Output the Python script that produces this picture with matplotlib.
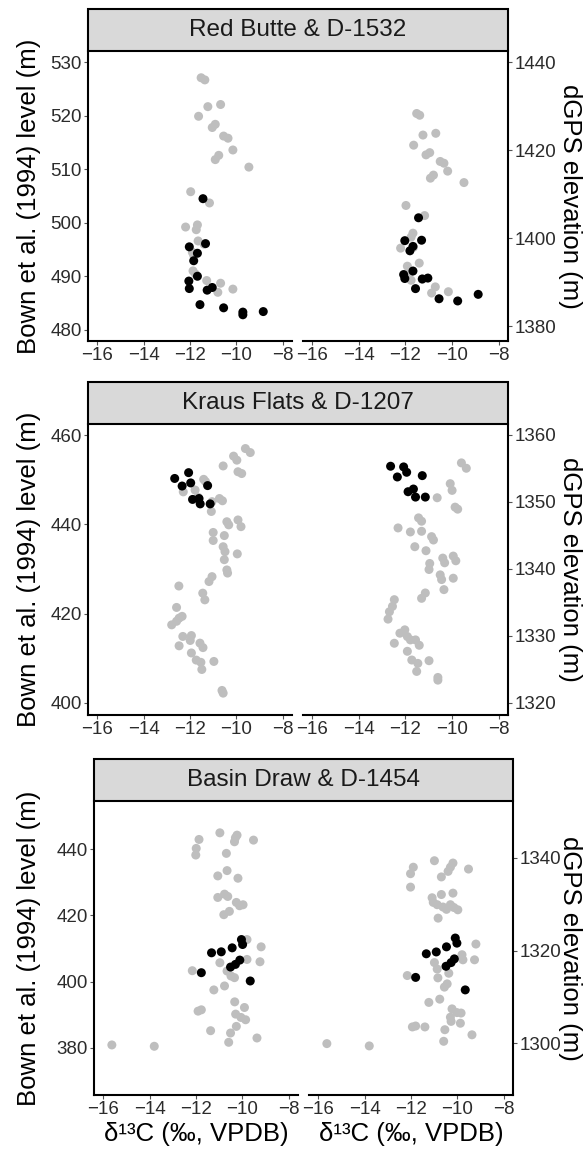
import matplotlib
matplotlib.use("Agg")
import matplotlib.pyplot as plt
from matplotlib.patches import Rectangle

plt.rcParams['font.family'] = ['Liberation Sans', 'DejaVu Sans']

# Red Butte & D-1532 : grey = all samples, black = selected samples
rb_grey_c = [-11.52, -11.36, -11.23, -10.68, -11.63, -10.91, -11.04, -10.55, -10.36, -10.15,
             -10.76, -10.91, -9.46, -11.97, -11.16, -12.19, -11.68, -11.73, -11.65, -11.39,
             -11.84, -11.87, -11.76, -11.28, -10.68, -10.15, -10.80, -11.90]
rb_grey_bown = [527.1, 526.7, 521.7, 522.1, 519.9, 518.4, 517.8, 516.2, 515.8, 513.6,
                512.6, 511.8, 510.4, 505.8, 503.7, 499.2, 499.6, 498.7, 496.6, 496.0,
                493.9, 491.0, 490.4, 489.2, 488.7, 487.6, 487.0, 494.5]
rb_black_c = [-11.44, -12.03, -11.68, -11.33, -11.84, -11.68, -12.05, -12.03, -11.26, -11.04,
              -11.57, -10.55, -9.72, -9.72, -8.84]
rb_black_bown = [504.5, 495.5, 494.3, 496.1, 492.9, 490.0, 489.1, 487.7, 487.4, 487.9,
                 484.7, 484.1, 483.3, 482.8, 483.4]
rb_grey_c2 = [-11.52, -11.39, -11.25, -10.70, -11.65, -11.12, -10.96, -10.51, -10.35, -10.19,
              -10.80, -10.93, -9.49, -11.98, -11.18, -11.68, -11.76, -12.21, -11.66, -11.41,
              -11.92, -11.84, -11.28, -10.72, -10.88, -10.16, -11.76]
rb_grey_gps = [1428.3, 1427.9, 1423.4, 1423.8, 1421.1, 1418.9, 1419.4, 1417.4, 1417.0, 1415.2,
               1414.3, 1413.6, 1412.6, 1407.4, 1405.1, 1401.1, 1400.2, 1397.7, 1397.9, 1394.3,
               1393.6, 1392.0, 1390.6, 1388.9, 1387.5, 1387.8, 1390.4]
rb_black_c2 = [-11.44, -12.03, -11.31, -11.68, -11.81, -11.68, -12.08, -12.03, -11.28, -11.04,
               -11.57, -10.56, -9.76, -8.88]
rb_black_gps = [1404.6, 1399.4, 1399.5, 1398.1, 1397.1, 1392.5, 1391.7, 1390.8, 1390.7, 1390.9,
                1388.5, 1386.2, 1385.7, 1387.2]

# Kraus Flats & D-1207
kf_grey_c = [-9.61, -9.40, -10.12, -9.98, -10.57, -9.93, -9.77, -11.41, -11.33, -12.29,
             -11.78, -11.66, -10.73, -10.60, -11.05, -11.08, -10.41, -10.33, -9.93, -9.80,
             -11.00, -11.00, -10.52, -10.57, -10.49, -9.96, -10.52, -10.41, -10.38, -11.05,
             -11.18, -12.48, -11.45, -11.36, -12.58, -12.34, -12.47, -12.58, -12.79, -12.31,
             -12.47, -11.94, -11.99, -11.57, -11.44, -11.94, -11.73, -11.53, -11.49, -10.97,
             -10.62, -10.57]
kf_grey_bown = [457.0, 456.1, 455.3, 454.4, 453.1, 451.8, 451.4, 450.1, 449.6, 447.3,
                447.7, 446.1, 445.8, 445.3, 445.1, 442.9, 440.6, 439.9, 441.0, 439.5,
                438.2, 436.4, 437.5, 435.0, 433.9, 433.4, 432.1, 429.8, 429.1, 428.3,
                427.2, 426.2, 424.6, 423.1, 421.4, 419.4, 419.0, 418.3, 417.5, 414.9,
                412.8, 415.1, 414.0, 413.4, 412.4, 411.2, 409.6, 409.1, 407.5, 409.3,
                402.8, 402.2]
kf_black_c = [-12.66, -12.06, -12.34, -11.97, -11.24, -11.89, -11.61, -11.56, -11.13]
kf_black_bown = [450.3, 451.6, 448.6, 449.3, 448.7, 445.6, 445.8, 444.6, 444.6]
kf_grey_c2 = [-9.60, -9.39, -10.08, -10.00, -10.64, -9.87, -9.76, -11.44, -11.31, -12.32,
              -11.79, -11.60, -11.31, -10.88, -10.80, -11.12, -10.96, -10.99, -10.40, -10.32,
              -9.95, -9.84, -10.51, -10.45, -10.35, -9.95, -11.15, -11.31, -12.48, -12.56,
              -12.69, -12.75, -12.24, -12.03, -12.48, -11.92, -11.79, -11.57, -11.41, -11.92,
              -11.73, -11.47, -11.52, -10.99, -10.61, -10.61]
kf_grey_gps = [1355.8, 1355.0, 1352.7, 1351.7, 1350.6, 1349.2, 1348.9, 1347.6, 1347.1, 1346.1,
               1345.5, 1343.3, 1345.6, 1344.8, 1344.3, 1342.7, 1340.8, 1339.9, 1341.6, 1340.9,
               1341.9, 1341.2, 1339.1, 1338.4, 1336.9, 1338.6, 1336.4, 1335.6, 1335.4, 1334.4,
               1333.6, 1332.5, 1330.4, 1330.9, 1328.9, 1329.9, 1329.4, 1329.4, 1328.6, 1327.7,
               1326.4, 1325.9, 1324.7, 1326.3, 1323.8, 1323.4]
kf_black_c2 = [-12.64, -12.08, -12.35, -11.95, -11.28, -11.89, -11.66, -11.57, -11.15]
kf_black_gps = [1355.3, 1355.2, 1353.7, 1354.4, 1353.9, 1351.5, 1351.9, 1350.7, 1350.7]

# Basin Draw & D-1454
bd_grey_c = [-15.63, -13.80, -11.87, -11.99, -12.01, -10.97, -10.34, -10.23, -10.30, -9.52,
             -10.69, -11.06, -10.66, -10.19, -11.06, -10.77, -10.63, -10.26, -10.12, -9.97,
             -10.80, -10.56, -9.80, -9.19, -10.97, -9.80, -9.24, -12.16, -10.66, -10.49,
             -10.34, -11.23, -10.77, -10.33, -9.91, -11.91, -11.77, -10.29, -10.06, -9.86,
             -10.26, -11.37, -10.51, -9.37, -10.59]
bd_grey_bown = [380.9, 380.5, 442.9, 440.2, 438.2, 444.9, 442.2, 444.2, 443.4, 442.7,
                438.7, 431.9, 433.5, 431.2, 425.4, 426.4, 425.7, 423.9, 422.9, 423.2,
                420.2, 421.2, 412.7, 410.5, 405.7, 406.7, 406.0, 403.3, 403.2, 401.7,
                401.2, 397.5, 398.7, 393.9, 392.2, 391.1, 391.5, 390.2, 389.2, 388.5,
                386.5, 385.2, 384.5, 383.0, 381.7]
bd_black_c = [-10.04, -9.99, -10.44, -11.33, -10.91, -10.11, -10.30, -10.51, -11.77, -9.66]
bd_black_bown = [412.7, 411.2, 410.2, 408.7, 409.0, 406.5, 405.2, 404.4, 402.7, 400.2]
bd_grey_c2 = [-15.63, -13.80, -10.99, -11.90, -12.02, -10.19, -10.30, -10.40, -9.52, -10.69,
              -12.02, -10.19, -10.69, -11.09, -11.04, -10.87, -10.62, -10.47, -10.30, -10.15,
              -9.98, -10.83, -9.20, -9.80, -9.76, -9.26, -10.99, -10.87, -12.16, -10.84,
              -10.37, -10.44, -10.56, -10.76, -11.23, -10.23, -10.02, -9.84, -10.30, -10.27,
              -9.87, -11.94, -11.80, -11.40, -10.54, -9.37, -10.59]
bd_grey_gps = [1299.9, 1299.4, 1339.4, 1338.0, 1336.6, 1338.9, 1338.0, 1337.1, 1337.6, 1335.9,
               1333.7, 1332.4, 1332.1, 1331.4, 1330.4, 1329.9, 1329.4, 1328.9, 1329.9, 1329.3,
               1328.8, 1327.0, 1321.4, 1319.1, 1318.0, 1318.0, 1317.4, 1316.0, 1314.6, 1314.1,
               1315.1, 1312.8, 1312.1, 1309.5, 1308.8, 1307.4, 1306.6, 1306.5, 1305.6, 1304.7,
               1304.3, 1303.5, 1303.7, 1303.5, 1302.9, 1301.8, 1300.4]
bd_black_c2 = [-10.09, -10.02, -10.47, -10.91, -11.34, -10.13, -10.27, -10.49, -11.80, -9.66]
bd_black_gps = [1322.7, 1321.6, 1320.8, 1319.7, 1319.3, 1318.2, 1317.4, 1316.6, 1314.2, 1311.5]

x_ticks = [-16, -14, -12, -10, -8]

W, H = 587, 1156
fig = plt.figure(figsize=(W / 100, H / 100), dpi=100)

GREY = '#bebebe'
TXT = '#2b2b2b'


def fx(px):
    return px / W


def fy(py):
    return 1 - py / H


def panel(rect, side, gx, gy, bx, by, ylim, yticks):
    x0, x1, top, bot = rect
    ax = fig.add_axes([fx(x0), fy(bot), fx(x1 - x0), (bot - top) / H])
    ax.scatter(gx, gy, s=42, c=GREY, edgecolors='none', zorder=2)
    ax.scatter(bx, by, s=42, c='black', edgecolors='none', zorder=3)
    ax.set_xlim(-16.4, -7.6)
    ax.set_ylim(*ylim)
    ax.set_xticks(x_ticks)
    ax.set_xticklabels(['\u2212' + str(-t) for t in x_ticks])
    ax.set_yticks(yticks)
    for s in ['top', 'left', 'right']:
        ax.spines[s].set_visible(False)
    ax.spines['bottom'].set_linewidth(1.5)
    if side == 'left':
        ax.spines['left'].set_visible(True)
        ax.spines['left'].set_linewidth(1.5)
    else:
        ax.spines['right'].set_visible(True)
        ax.spines['right'].set_linewidth(1.5)
        ax.yaxis.tick_right()
    ax.tick_params(direction='out', length=3, width=0.8, color='#555555',
                   labelsize=13.5, labelcolor=TXT, pad=1.5)
    ax.set_facecolor('none')
    return ax


def row(title, xs, top, bot, strip_top, left_data, right_data, xlabel=False):
    xl0, xl1, xr0, xr1 = xs
    panel((xl0, xl1, top, bot), 'left', *left_data)
    panel((xr0, xr1, top, bot), 'right', *right_data)
    # strip above both panels
    fig.patches.append(Rectangle((fx(xl0), fy(top)), fx(xr1 - xl0), (top - strip_top) / H,
                                 transform=fig.transFigure, facecolor='#d9d9d9',
                                 edgecolor='black', linewidth=1.5, zorder=5))
    fig.text(fx((xl0 + xr1) / 2), fy((top + strip_top) / 2), title, ha='center', va='center',
             fontsize=17.5, color='#1a1a1a', zorder=6)
    mid = (top + bot) / 2
    fig.text(fx(29), fy(mid), 'Bown et al. (1994) level (m)', rotation=90,
             ha='center', va='center', fontsize=18.5, color='black')
    fig.text(fx(570), fy(mid), 'dGPS elevation (m)', rotation=270,
             ha='center', va='center', fontsize=18.5, color='black')
    if xlabel:
        for a, b in [(xl0, xl1), (xr0, xr1)]:
            fig.text(fx((a + b) / 2), fy(1134), '\u03b4\u00b9\u00b3C (\u2030, VPDB)',
                     ha='center', va='center', fontsize=18.5, color='black')


row('Red Butte & D-1532', (88, 292, 303, 508), 51, 341, 9,
    (rb_grey_c, rb_grey_bown, rb_black_c, rb_black_bown, (477.9, 532.1), [480, 490, 500, 510, 520, 530]),
    (rb_grey_c2, rb_grey_gps, rb_black_c2, rb_black_gps, (1376.6, 1442.5), [1380, 1400, 1420, 1440]))

row('Kraus Flats & D-1207', (88, 292, 303, 508), 424, 715, 382,
    (kf_grey_c, kf_grey_bown, kf_black_c, kf_black_bown, (397.3, 462.5), [400, 420, 440, 460]),
    (kf_grey_c2, kf_grey_gps, kf_black_c2, kf_black_gps, (1318.2, 1361.6), [1320, 1330, 1340, 1350, 1360]))

row('Basin Draw & D-1454', (94, 298, 309, 513), 801, 1095, 759,
    (bd_grey_c, bd_grey_bown, bd_black_c, bd_black_bown, (365.8, 454.5), [380, 400, 420, 440]),
    (bd_grey_c2, bd_grey_gps, bd_black_c2, bd_black_gps, (1288.8, 1352.3), [1300, 1320, 1340]),
    xlabel=True)

fig.savefig('out.png', dpi=100)
